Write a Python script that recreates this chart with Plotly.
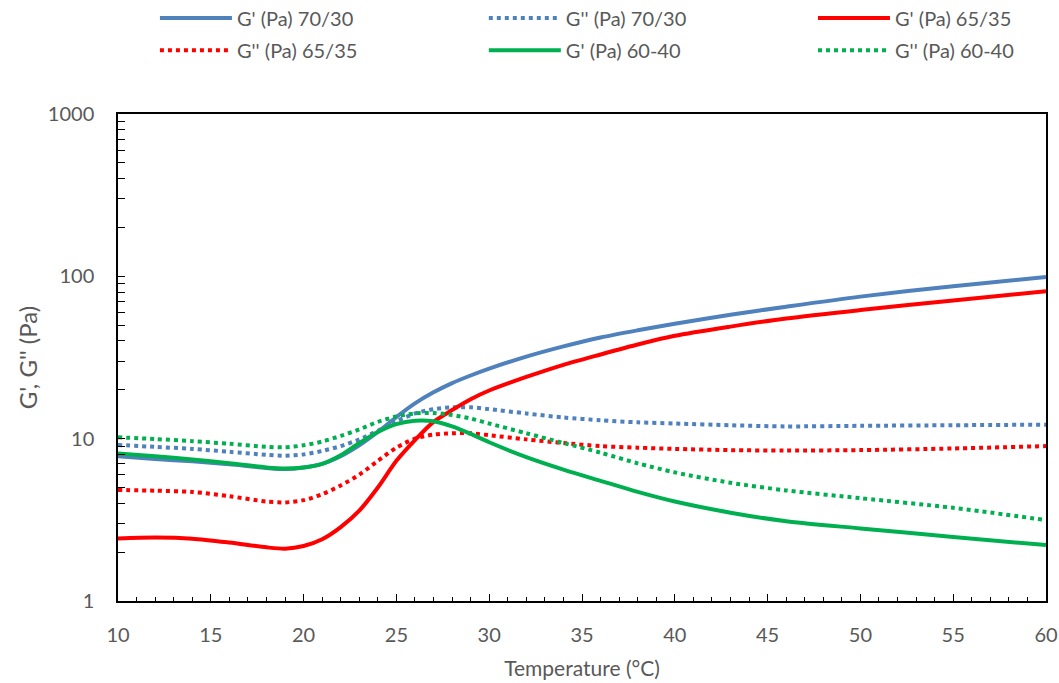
import plotly.graph_objects as go

temperature = [10, 12, 14, 16, 18, 19, 20, 21, 22, 23, 24, 25, 26, 27, 28, 29, 30,
               32, 34, 36, 38, 40, 43, 46, 50, 55, 60]

g1_70_30 = [7.8, 7.5, 7.25, 6.95, 6.6, 6.5, 6.65, 7.0, 7.8, 9.1, 11.0, 13.6, 16.5, 19.3,
            22.0, 24.5, 27.0, 32.0, 37.0, 42.0, 46.5, 51.0, 58.0, 65.0, 75.0, 87.0, 99.0]
g2_70_30 = [9.15, 8.9, 8.65, 8.3, 7.95, 7.85, 8.0, 8.4, 9.0, 9.9, 11.2, 12.8, 14.3, 15.2,
            15.6, 15.6, 15.2, 14.3, 13.5, 13.0, 12.6, 12.4, 12.1, 11.9, 12.0, 12.1, 12.2]
g1_65_35 = [2.43, 2.46, 2.42, 2.29, 2.14, 2.1, 2.18, 2.4, 2.85, 3.6, 5.0, 7.3, 9.8, 12.7,
            15.0, 17.5, 19.8, 24.0, 28.5, 33.0, 38.0, 43.0, 49.0, 55.0, 62.0, 71.0, 81.0]
g2_65_35 = [4.83, 4.78, 4.7, 4.42, 4.1, 4.05, 4.18, 4.55, 5.15, 6.0, 7.3, 8.8, 10.0, 10.6,
            10.8, 10.8, 10.5, 9.9, 9.4, 9.0, 8.8, 8.65, 8.5, 8.45, 8.5, 8.7, 9.0]
g1_60_40 = [8.1, 7.8, 7.45, 7.05, 6.65, 6.55, 6.65, 7.0, 7.9, 9.4, 11.0, 12.3, 12.9, 12.8,
            11.9, 10.7, 9.5, 7.7, 6.45, 5.5, 4.7, 4.1, 3.5, 3.1, 2.8, 2.48, 2.21]
g2_60_40 = [10.2, 9.95, 9.65, 9.3, 8.9, 8.85, 9.1, 9.6, 10.4, 11.4, 12.7, 13.7, 14.3, 14.4,
            14.0, 13.3, 12.4, 10.8, 9.4, 8.2, 7.05, 6.2, 5.35, 4.8, 4.3, 3.75, 3.15]

series_names = ["G' (Pa) 70/30", "G'' (Pa) 70/30", "G' (Pa) 65/35",
                "G'' (Pa) 65/35", "G' (Pa) 60-40", "G'' (Pa) 60-40"]
series_values = [g1_70_30, g2_70_30, g1_65_35, g2_65_35, g1_60_40, g2_60_40]
series_colors = ["#4F81BD", "#4F81BD", "#FF0000", "#FF0000", "#00B050", "#00B050"]
series_dash = ["solid", "dot", "solid", "dot", "solid", "dot"]

y_tick_vals = [1, 10, 100, 1000]
y_tick_text = ["1", "10", "100", "1000"]

FONT = "Lato"
GREY = "#595959"

# legend grid: 3 columns x 2 rows (paper coordinates)
legend_cols = [0.0398, 0.3942, 0.7489]
legend_rows = [1.197, 1.131]

fig = go.Figure()
legend_layout = {}
for i, (name, vals, col, dash) in enumerate(zip(series_names, series_values,
                                                series_colors, series_dash)):
    key = "legend" if i == 0 else f"legend{i + 1}"
    fig.add_trace(go.Scatter(
        x=temperature, y=vals, name=name, mode="lines", legend=key,
        line=dict(color=col, width=4, dash=dash, shape="spline", smoothing=0.8),
    ))
    legend_layout[key] = dict(
        x=legend_cols[i % 3], y=legend_rows[i // 3],
        xanchor="left", yanchor="middle", orientation="h", itemwidth=72,
        font=dict(family=FONT, size=20, color=GREY), bgcolor="rgba(0,0,0,0)",
    )

fig.update_layout(
    width=1059, height=683,
    margin=dict(l=118, r=13, t=114, b=82, autoexpand=False),
    paper_bgcolor="white", plot_bgcolor="white",
    font=dict(family=FONT, color=GREY, size=20),
    showlegend=True,
    xaxis=dict(
        range=[10, 60], dtick=5, tick0=10, automargin=False,
        showline=True, linecolor="black", linewidth=1.5, mirror=True,
        ticks="inside", ticklen=7, tickcolor="black", tickwidth=1,
        minor=dict(ticks="inside", ticklen=4, dtick=1, tickcolor="black", tickwidth=1),
        showgrid=False, zeroline=False,
        tickfont=dict(family=FONT, size=20, color=GREY),
        ticklabelstandoff=15,
        title=dict(text="Temperature (°C)", font=dict(family=FONT, size=21, color=GREY), standoff=17),
    ),
    yaxis=dict(
        type="log", range=[0, 3], automargin=False,
        tickvals=y_tick_vals, ticktext=y_tick_text,
        showline=True, linecolor="black", linewidth=1.5, mirror=True,
        ticks="inside", ticklen=7, tickcolor="black", tickwidth=1,
        minor=dict(ticks="inside", ticklen=7, dtick="D1", tickcolor="black", tickwidth=1),
        showgrid=False, zeroline=False,
        tickfont=dict(family=FONT, size=20, color=GREY),
        ticklabelstandoff=18,
        title=dict(text="G', G'' (Pa)", font=dict(family=FONT, size=24, color=GREY), standoff=3),
    ),
    **legend_layout,
)

fig.write_html("out.html", config={"displayModeBar": False},
               post_script="document.body.style.margin='0';")
